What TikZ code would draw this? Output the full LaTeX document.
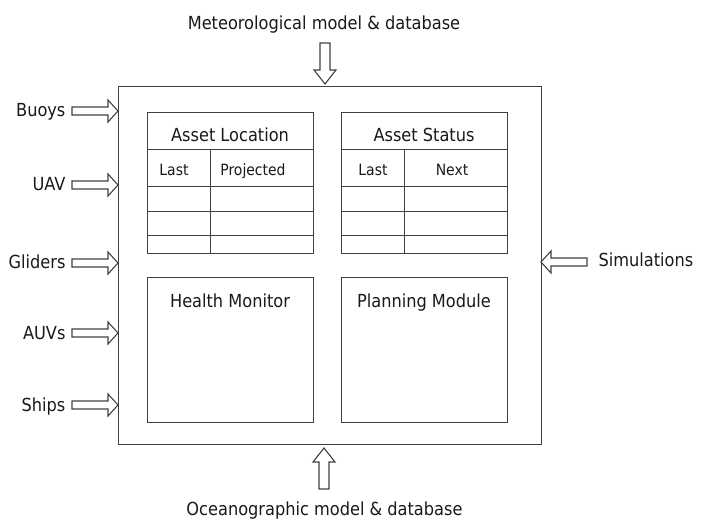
\documentclass[tikz,border=0pt]{standalone}
\usepackage{fontspec}
\setmainfont{DejaVu Sans Condensed}
\begin{document}
\begin{tikzpicture}[x=1pt,y=-1pt,line width=1.1pt,
  every node/.style={inner sep=0pt, text=black!90},
  txt/.style={font=\fontsize{18}{20}\selectfont, anchor=base},
  small/.style={font=\fontsize{15.5}{18}\selectfont, anchor=base},
  box/.style={draw=black!75, anchor=north west},
  arr/.style={draw=black!75},
  pics/rarrow/.style={code={\draw[arr] (0,-4)--(36,-4)--(36,-11)--(46,0)--(36,11)--(36,4)--(0,4)--cycle;}},
  pics/darrow/.style={code={\draw[arr] (-5,0)--(-5,27)--(-11,27)--(0,41)--(11,27)--(5,27)--(5,0)--cycle;}}]
\useasboundingbox (0,0) rectangle (704,521);
% main box
\node[box, minimum width=423pt, minimum height=358pt] (main) at (118,86) {};
% Asset Location table
\node[box, minimum width=166pt, minimum height=37pt] (locT) at (147,112) {};
\node[box, minimum width=63pt, minimum height=37pt] (locL) at (147,149) {};
\node[box, minimum width=103pt, minimum height=37pt] (locP) at (210,149) {};
\foreach \y/\h [count=\i] in {186/25,211/24,235/18}{
  \node[box, minimum width=63pt, minimum height=\h pt] (locA\i) at (147,\y) {};
  \node[box, minimum width=103pt, minimum height=\h pt] (locB\i) at (210,\y) {};
}
\node[txt] (locTt) at (230,142) {Asset Location};
\node[small] (locLt) at (174,176) {Last};
\node[small] (locPt) at (253,176) {Projected};
% Asset Status table
\node[box, minimum width=166pt, minimum height=37pt] (stT) at (341,112) {};
\node[box, minimum width=63pt, minimum height=37pt] (stL) at (341,149) {};
\node[box, minimum width=103pt, minimum height=37pt] (stN) at (404,149) {};
\foreach \y/\h [count=\i] in {186/25,211/24,235/18}{
  \node[box, minimum width=63pt, minimum height=\h pt] (stA\i) at (341,\y) {};
  \node[box, minimum width=103pt, minimum height=\h pt] (stB\i) at (404,\y) {};
}
\node[txt] (stTt) at (424,142) {Asset Status};
\node[small] (stLt) at (373,176) {Last};
\node[small] (stNt) at (452,176) {Next};
% lower boxes
\node[box, minimum width=166pt, minimum height=145pt] (hm) at (147,277) {};
\node[txt] (hmt) at (230,308) {Health Monitor};
\node[box, minimum width=166pt, minimum height=145pt] (pm) at (341,277) {};
\node[txt] (pmt) at (424,308) {Planning Module};
% labels
\node[txt] (met) at (324,30) {Meteorological model \& database};
\node[txt] (oce) at (324.5,515) {Oceanographic model \& database};
\node[txt, anchor=base east] (buoys) at (66,117) {Buoys};
\node[txt, anchor=base east] (uav) at (66,191) {UAV};
\node[txt, anchor=base east] (gliders) at (66,269) {Gliders};
\node[txt, anchor=base east] (auvs) at (66,339) {AUVs};
\node[txt, anchor=base east] (ships) at (66,411) {Ships};
\node[txt, anchor=base west] (sim) at (598,267) {Simulations};
% block arrows
\pic at (72,111) {rarrow};
\pic at (72,185) {rarrow};
\pic at (72,263) {rarrow};
\pic at (72,333) {rarrow};
\pic at (72,405) {rarrow};
\pic[xscale=-1] at (587,262) {rarrow};
\pic at (325,43) {darrow};
\pic[yscale=-1] at (324,489) {darrow};
\end{tikzpicture}
\end{document}
